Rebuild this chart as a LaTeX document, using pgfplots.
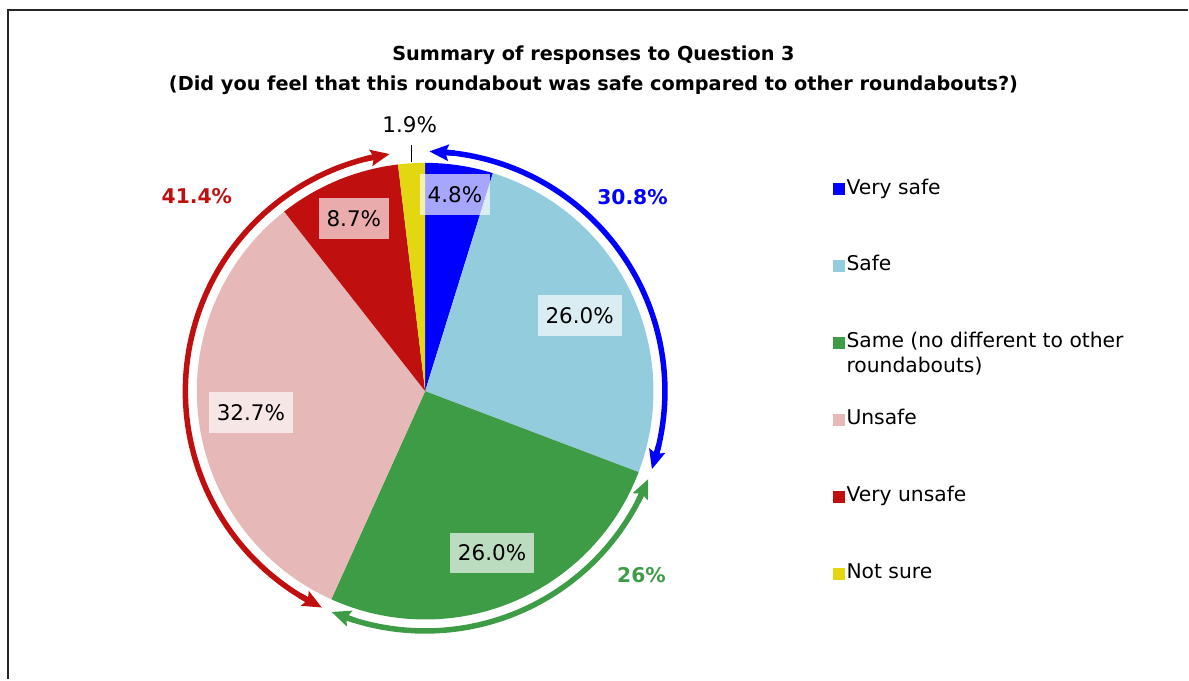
\documentclass[border=0pt]{standalone}
\usepackage{fontspec}
\setmainfont{DejaVu Sans}
\usepackage{pgfplots}
\pgfplotsset{compat=1.18}
\usetikzlibrary{arrows.meta}

\definecolor{cVS}{HTML}{0000FF}
\definecolor{cS}{HTML}{93CDDD}
\definecolor{cSame}{HTML}{3E9C47}
\definecolor{cU}{HTML}{E6B9B8}
\definecolor{cVU}{HTML}{C00F0F}
\definecolor{cNS}{HTML}{E2D711}

% data: percentage of responses
\def\vA{4.8}  % Very safe
\def\vB{26.0} % Safe
\def\vC{26.0} % Same
\def\vD{32.7} % Unsafe
\def\vE{8.7}  % Very unsafe
\def\vF{1.9}  % Not sure
\pgfmathsetmacro\tot{\vA+\vB+\vC+\vD+\vE+\vF}
\pgfmathsetmacro\k{360/\tot}
\pgfmathsetmacro\aA{\k*\vA}
\pgfmathsetmacro\aB{\k*(\vA+\vB)}
\pgfmathsetmacro\aC{\k*(\vA+\vB+\vC)}
\pgfmathsetmacro\aD{\k*(\vA+\vB+\vC+\vD)}
\pgfmathsetmacro\aE{\k*(\vA+\vB+\vC+\vD+\vE)}
\pgfmathsetmacro\mA{\aA/2}
\pgfmathsetmacro\mB{(\aA+\aB)/2}
\pgfmathsetmacro\mC{(\aB+\aC)/2}
\pgfmathsetmacro\mD{(\aC+\aD)/2}
\pgfmathsetmacro\mE{(\aD+\aE)/2}
\pgfmathsetmacro\mF{(\aE+360)/2}

% geometry (1 unit = 1 px of the reference)
\def\cx{425.5}\def\cy{288.5}\def\R{228.5}\def\Ra{240}

\newcommand\slice[3]{%
  \addplot[fill=#1, draw=none, domain=#2:#3, samples=80]
    ({\cx+\R*sin(x)},{\cy+\R*cos(x)}) -- (axis cs:\cx,\cy) -- cycle;}
\pgfplotsset{arr/.style={forget plot, line width=5.5pt, samples=2}}
\tikzset{
  tip/.tip={Stealth[length=19pt,width=16pt,inset=3pt]},
  lbl/.style={fill=white, fill opacity=0.65, text opacity=1, text=black,
    font=\fontsize{21.5}{25}\selectfont, minimum height=41pt,
    inner xsep=8pt, inner ysep=0pt},
  big/.style={anchor=base, font=\bfseries\fontsize{20.3}{25}\selectfont},
}
\newcommand\arcplot[3]{% color, from, to
  \addplot[arr, draw=#1, samples=80, domain=#2:#3] ({\cx+\Ra*sin(x)},{\cy+\Ra*cos(x)});}
\newcommand\headplot[4]{% color, from, to, arrow spec
  \addplot[arr, draw=#1, #4, domain=#2:#3] ({\cx+\Ra*sin(x)},{\cy+\Ra*cos(x)});}

\begin{document}
\begin{tikzpicture}
\begin{axis}[
  scale only axis, width=1189pt, height=680pt,
  xmin=0, xmax=1189, ymin=0, ymax=680,
  hide axis, clip=false,
  legend style={at={(axis cs:833,500)}, anchor=north west, draw=none, fill=none,
    inner sep=0pt, row sep=59pt, column sep=2pt,
    font=\fontsize{20.3}{25}\selectfont,
    nodes={inner sep=0pt, text height=14pt, text depth=4pt}},
  legend cell align=left,
  legend image code/.code={\fill[#1] (0pt,-6pt) rectangle (12pt,6pt);},
]
% picture extent
\path (axis cs:0,0) rectangle (axis cs:1189,680);
% frame
\draw[line width=2pt, black!85] (axis cs:1189,670) -- (axis cs:8,670) -- (axis cs:8,0);

% pie slices, clockwise from 12 o'clock
\slice{cVS}{0}{\aA}
\addlegendentry{Very safe}
\slice{cS}{\aA}{\aB}
\addlegendentry{Safe}
\slice{cSame}{\aB}{\aC}
\addlegendentry{\begin{tabular}[t]{@{}l@{}}Same (no different to other\\roundabouts)\end{tabular}}
\slice{cU}{\aC}{\aD}
\addlegendentry{Unsafe}
\slice{cVU}{\aD}{\aE}
\addlegendentry{Very unsafe}
\slice{cNS}{\aE}{360}
\addlegendentry{Not sure}

% group arrows
\arcplot{cVS}{5}{105}
\headplot{cVS}{1}{7}{tip-}
\headplot{cVS}{103}{109}{-tip}
\arcplot{cSame}{115}{199}
\headplot{cSame}{111.5}{117.5}{tip-}
\headplot{cSame}{197}{203}{-tip}
\arcplot{cVU}{209.5}{347.5}
\headplot{cVU}{205.5}{211.5}{tip-}
\headplot{cVU}{345.5}{351.5}{-tip}

% data labels
\node[lbl] at (axis cs:{\cx+199.3*sin(\mA)},{\cy+199.3*cos(\mA)}) {4.8\%};
\node[lbl] at (axis cs:{\cx+172*sin(\mB)},{\cy+172*cos(\mB)}) {26.0\%};
\node[lbl] at (axis cs:{\cx+175.3*sin(\mC)},{\cy+175.3*cos(\mC)}) {26.0\%};
\node[lbl] at (axis cs:{\cx+175.7*sin(\mD)},{\cy+175.7*cos(\mD)}) {32.7\%};
\node[lbl] at (axis cs:{\cx+186.6*sin(\mE)},{\cy+186.6*cos(\mE)}) {8.7\%};
\draw[line width=1pt, black] (axis cs:{\cx+\R*sin(\mF)},518) -- (axis cs:{\cx+\R*sin(\mF)},535);
\node[anchor=base, font=\fontsize{21.5}{25}\selectfont] at (axis cs:410,547) {1.9\%};

% group totals
\node[big, text=cVS] at (axis cs:633,475) {30.8\%};
\node[big, text=cSame] at (axis cs:642,97) {26\%};
\node[big, text=cVU] at (axis cs:197,476) {41.4\%};

% title
\node[anchor=base, font=\bfseries\fontsize{19.3}{22}\selectfont] at (axis cs:594,619) {Summary of responses to Question 3};
\node[anchor=base, font=\bfseries\fontsize{19.3}{22}\selectfont] at (axis cs:594,589) {(Did you feel that this roundabout was safe compared to other roundabouts?)};
\end{axis}
\end{tikzpicture}
\end{document}
